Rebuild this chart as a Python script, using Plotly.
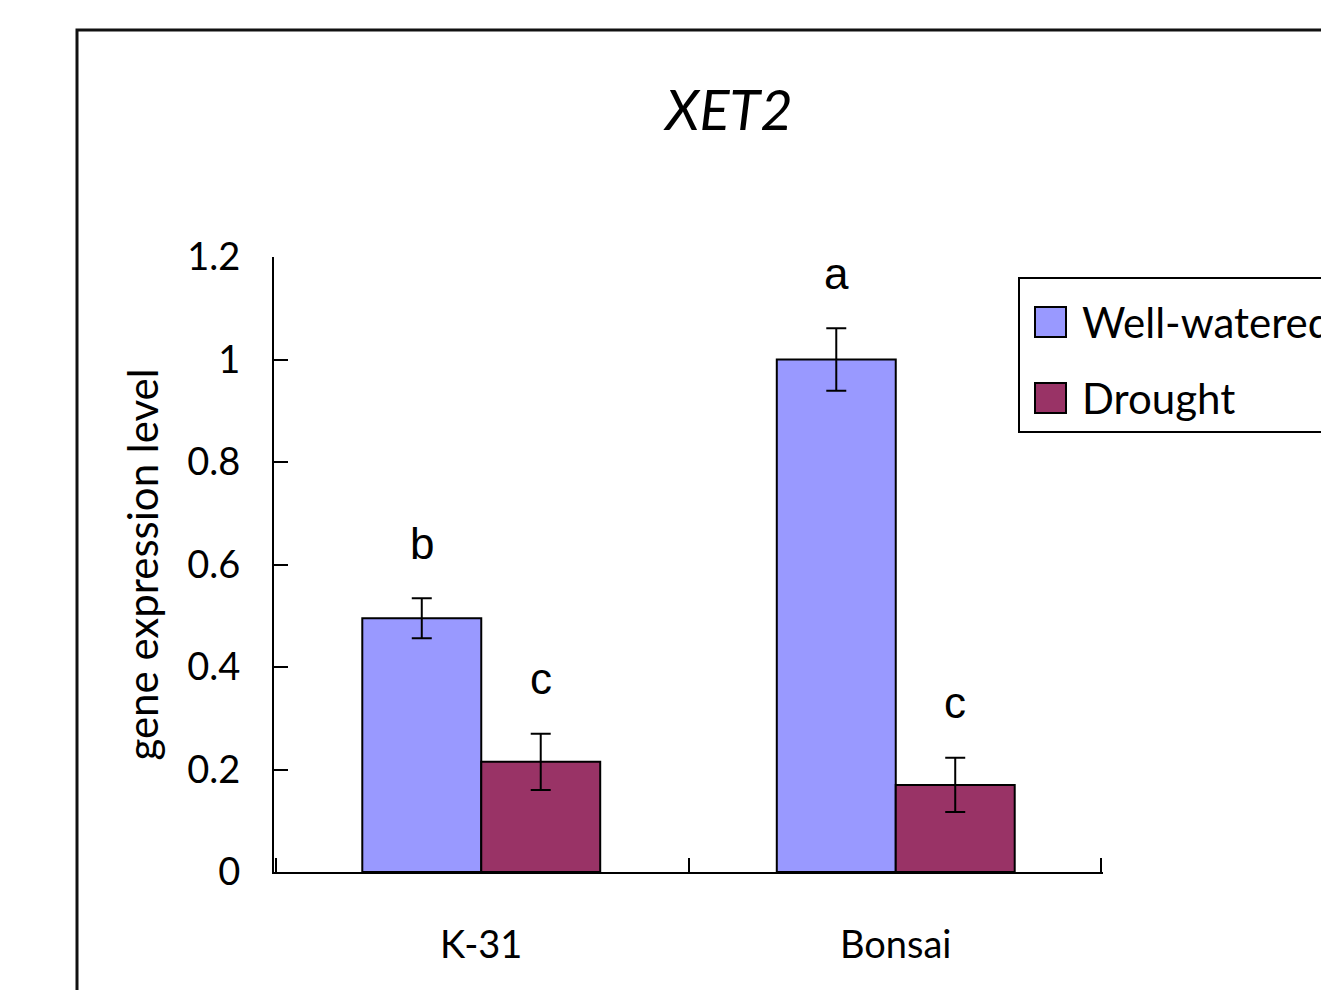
import plotly.graph_objects as go

categories = ["K-31", "Bonsai"]
series_names = ["Well-watered", "Drought"]
well_watered = [0.495, 1.0]
well_watered_err = [0.039, 0.061]
drought = [0.215, 0.17]
drought_err = [0.055, 0.053]
ww_letters = ["b", "a"]
dr_letters = ["c", "c"]
y_ticks = [0, 0.2, 0.4, 0.6, 0.8, 1.0, 1.2]
title_text = "XET2"
y_title = "gene expression level"

C_WW = "#9999FF"
C_DR = "#993366"

OFF = 8  # page body margin
W, H = 1329 - OFF, 990 - OFF
L, R, T, B = 274, 1103, 257, 872
FONT = "Lato, Carlito, 'Liberation Sans', sans-serif"
LET_FONT = "'Liberation Sans', Arial, sans-serif"

def px(x):
    return (x - L) / (R - L)

def py(y):
    return (B - y) / (B - T)

fig = go.Figure()
fig.add_trace(go.Bar(
    x=categories, y=well_watered, name=series_names[0],
    marker=dict(color=C_WW, line=dict(color="black", width=2)),
    error_y=dict(type="data", array=well_watered_err, color="black", thickness=2, width=10),
    showlegend=False,
))
fig.add_trace(go.Bar(
    x=categories, y=drought, name=series_names[1],
    marker=dict(color=C_DR, line=dict(color="black", width=2)),
    error_y=dict(type="data", array=drought_err, color="black", thickness=2, width=10),
    showlegend=False,
))
# empty helper trace so the boundary-tick axis is drawn
fig.add_trace(go.Scatter(x=[], y=[], xaxis="x2", yaxis="y", showlegend=False, hoverinfo="skip"))

annotations = []
half = 59.5
for i, cat in enumerate(categories):
    annotations.append(dict(x=cat, y=well_watered[i] + well_watered_err[i], xref="x", yref="y",
                            text=ww_letters[i], showarrow=False, xshift=-half, yshift=55,
                            yanchor="middle", font=dict(family=LET_FONT, size=44, color="black")))
    annotations.append(dict(x=cat, y=drought[i] + drought_err[i], xref="x", yref="y",
                            text=dr_letters[i], showarrow=False, xshift=half, yshift=55,
                            yanchor="middle", font=dict(family=LET_FONT, size=44, color="black")))

# custom legend + outer chart border
shapes = [
    dict(type="rect", xref="paper", yref="paper", x0=px(77), x1=px(1600), y0=py(30), y1=py(1400),
         line=dict(color="#111111", width=3), fillcolor="rgba(0,0,0,0)", layer="below"),
    dict(type="rect", xref="paper", yref="paper", x0=px(1019), x1=px(1500), y0=py(278), y1=py(432),
         line=dict(color="black", width=2), fillcolor="white"),
]
legend_items = [(series_names[0], C_WW, 322), (series_names[1], C_DR, 398)]
for name, col, yc in legend_items:
    shapes.append(dict(type="rect", xref="paper", yref="paper", x0=px(1035), x1=px(1066),
                       y0=py(yc - 15), y1=py(yc + 15), line=dict(color="black", width=2), fillcolor=col))
    annotations.append(dict(x=px(1080), y=py(yc), xref="paper", yref="paper", text=name,
                            showarrow=False, xanchor="left", yanchor="middle",
                            font=dict(family=FONT, size=42, color="black")))

fig.update_layout(
    width=W, height=H,
    margin=dict(l=L - OFF, r=W - (R - OFF), t=T - OFF, b=H - (B - OFF), autoexpand=False),
    paper_bgcolor="white", plot_bgcolor="white",
    barmode="group", bargap=0.426, bargroupgap=0,
    showlegend=False,
    title=dict(text="<i>" + title_text + "</i>", xref="paper", x=px(729), xanchor="center",
               yref="container", y=1 - (110 - OFF) / H, yanchor="middle",
               font=dict(family=FONT, size=56, color="black")),
    xaxis=dict(showline=True, linecolor="black", linewidth=2, ticks="", showgrid=False,
               tickfont=dict(family=FONT, size=38, color="black"), ticklabelstandoff=38,
               automargin=False),
    xaxis2=dict(overlaying="x", anchor="y", side="bottom", range=[-0.5, 1.5],
                tickvals=[-0.496, 0.5, 1.496], ticks="inside", ticklen=14, tickwidth=2,
                tickcolor="black", showticklabels=False, showgrid=False, zeroline=False,
                showline=False, automargin=False, fixedrange=True),
    yaxis=dict(range=[0, 1.2], tickvals=y_ticks, showline=True, linecolor="black", linewidth=2,
               ticks="inside", ticklen=14, tickwidth=2, tickcolor="black", showgrid=False,
               zeroline=False, tickfont=dict(family=FONT, size=38, color="black"),
               ticklabelstandoff=24, automargin=False,
               title=dict(text=y_title, font=dict(family=FONT, size=42, color="black"), standoff=16)),
    annotations=annotations,
    shapes=shapes,
)

fig.write_html("out.html")
